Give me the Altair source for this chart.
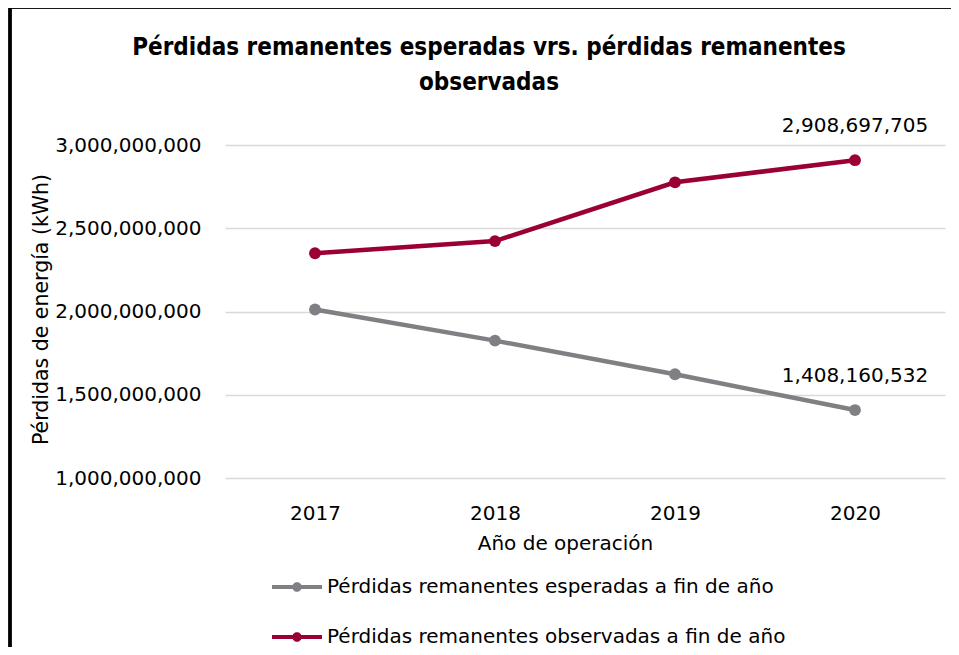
import altair as alt
import pandas as pd

years = ["2017", "2018", "2019", "2020"]
series_names = [
    "Pérdidas remanentes esperadas a fin de año",
    "Pérdidas remanentes observadas a fin de año",
]
esperadas = [2012000000, 1825000000, 1623000000, 1408160532]
observadas = [2350000000, 2423000000, 2776000000, 2908697705]
y_ticks = [1000000000, 1500000000, 2000000000, 2500000000, 3000000000]
colors = ["#808084", "#9A0036"]

rows = []
for y, v in zip(years, esperadas):
    rows.append({"Año": y, "Serie": series_names[0], "Valor": v})
for y, v in zip(years, observadas):
    rows.append({"Año": y, "Serie": series_names[1], "Valor": v})
df = pd.DataFrame(rows)

FONT = "DejaVu Sans"
TFONT = "DejaVu Sans Condensed, Liberation Sans Narrow, DejaVu Sans"
NUM = 20
TXT = 20
W, H = 720, 333

x_enc = alt.X(
    "Año:O",
    scale=alt.Scale(type="point", padding=0.5),
    axis=alt.Axis(
        title="Año de operación",
        labelAngle=0,
        ticks=False,
        domain=False,
        grid=False,
        labelPadding=25,
        labelFontSize=NUM,
        labelFont=FONT,
        labelColor="#000000",
        titleFont=FONT,
        titleFontSize=TXT,
        titleFontWeight="normal",
        titleColor="#000000",
        titleX=340,
        titleY=71,
        titleBaseline="alphabetic",
        titleAnchor="middle",
    ),
)
y_enc = alt.Y(
    "Valor:Q",
    scale=alt.Scale(domain=[1000000000, 3000000000], nice=False, zero=False),
    axis=alt.Axis(
        title="Pérdidas de energía (kWh)",
        values=y_ticks,
        format=",d",
        ticks=False,
        domain=False,
        grid=True,
        gridColor="#d9d9d9",
        gridWidth=1.5,
        labelPadding=24,
        labelFontSize=NUM,
        labelFont=FONT,
        labelColor="#000000",
        titleFont=FONT,
        titleFontSize=20.5,
        titleFontWeight="normal",
        titleColor="#000000",
        titleX=-178,
        titleY=164,
        titleBaseline="alphabetic",
        titleAngle=-90,
        titleAnchor="middle",
    ),
)
color_scale = alt.Scale(domain=series_names, range=colors)
# reversed order so this scale is not merged with the color legend
stroke_scale = alt.Scale(domain=series_names[::-1], range=colors[::-1])

legend_path = ("M-1,-0.08L1,-0.08L1,0.08L-1,0.08Z "
               "M0.19,0A0.19,0.19,0,1,1,-0.19,0A0.19,0.19,0,1,1,0.19,0Z")

base = alt.Chart(df)

lines = base.mark_line(strokeWidth=4.5).encode(
    x=x_enc,
    y=y_enc,
    stroke=alt.Stroke("Serie:N", scale=stroke_scale, legend=None),
)
points = base.mark_point(filled=True, size=140, opacity=1, shape="circle").encode(
    x=x_enc,
    y=y_enc,
    color=alt.Color(
        "Serie:N",
        scale=color_scale,
        legend=alt.Legend(
            title=None,
            orient="none",
            legendX=47,
            legendY=417,
            direction="vertical",
            symbolType=legend_path,
            symbolSize=2500,
            symbolStrokeWidth=0,
            labelFont=FONT,
            labelFontSize=TXT,
            labelColor="#000000",
            labelOffset=5,
            labelLimit=700,
            rowPadding=15,
            padding=0,
        ),
    ),
)
labels = base.mark_text(
    font=FONT, fontSize=NUM, color="#000000", dy=-34, align="center"
).encode(
    x=x_enc,
    y=y_enc,
    text=alt.Text("Valor:Q", format=",d"),
).transform_filter(alt.datum["Año"] == years[-1])

frame_left = alt.Chart(df).mark_rule(color="#000000", strokeWidth=2.5).encode(
    x=alt.value(-215), y=alt.value(-139), y2=alt.value(H + 200)
)
frame_top = alt.Chart(df).mark_rule(color="#000000", strokeWidth=2.5).encode(
    x=alt.value(-216), x2=alt.value(W + 50), y=alt.value(-138)
)

chart = alt.layer(lines, points, labels, frame_left, frame_top).properties(
    width=W,
    height=H,
    autosize=alt.AutoSizeParams(type="none"),
    padding={"left": 217, "top": 137, "right": 6, "bottom": 169},
    title=alt.Title(
        ["Pérdidas remanentes esperadas vrs. pérdidas remanentes", "observadas"],
        font=TFONT,
        fontSize=24,
        fontWeight="bold",
        color="#000000",
        anchor="middle",
        frame="group",
        baseline="bottom",
        dx=-96,
        offset=-114,
        lineHeight=35,
    ),
).configure(background="#ffffff").configure_view(strokeWidth=0)

chart.save("out.html", embed_options={"renderer": "svg", "actions": False})
